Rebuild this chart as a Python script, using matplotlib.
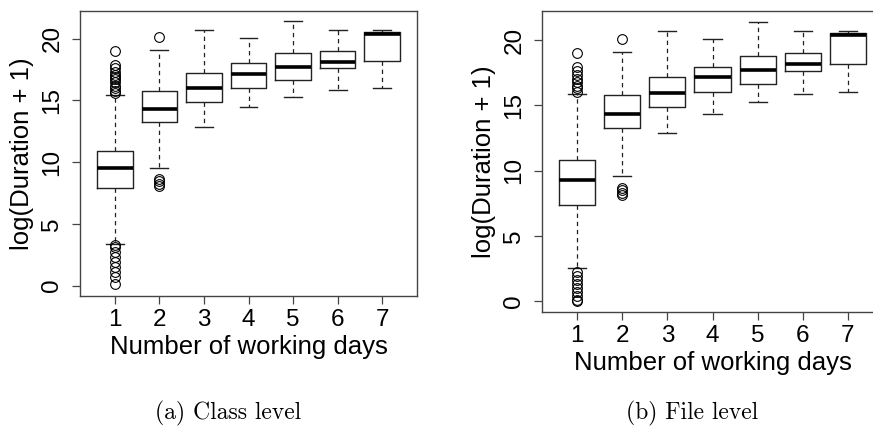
import matplotlib
matplotlib.use("Agg")
import matplotlib.pyplot as plt

days = [1, 2, 3, 4, 5, 6, 7]
y_ticks = [0, 5, 10, 15, 20]

# class level
class_q1 = [7.88, 13.25, 14.87, 16.02, 16.67, 17.64, 18.18]
class_med = [9.55, 14.30, 16.00, 17.15, 17.74, 18.12, 20.40]
class_q3 = [10.90, 15.73, 17.20, 18.00, 18.82, 19.00, 20.56]
class_lo = [3.36, 9.55, 12.82, 14.44, 15.27, 15.86, 16.02]
class_hi = [15.46, 19.09, 20.70, 20.03, 21.40, 20.70, 20.70]
class_out = [
    [19.0, 17.9, 17.6, 17.3, 17.1, 16.9, 16.7, 16.5, 16.2, 16.0, 15.8, 15.6,
     3.3, 3.1, 2.7, 2.3, 1.9, 1.5, 1.1, 0.7, 0.1],
    [20.15, 8.65, 8.45, 8.25, 8.1],
    [], [], [], [], [],
]

# file level
file_q1 = [7.36, 13.23, 14.84, 16.02, 16.65, 17.62, 18.16]
file_med = [9.27, 14.35, 15.96, 17.14, 17.70, 18.14, 20.38]
file_q3 = [10.78, 15.76, 17.19, 17.95, 18.80, 19.03, 20.56]
file_lo = [2.55, 9.58, 12.85, 14.35, 15.22, 15.84, 16.04]
file_hi = [15.84, 19.10, 20.69, 20.08, 21.35, 20.69, 20.69]
file_out = [
    [19.0, 17.9, 17.6, 17.3, 17.0, 16.8, 16.5, 16.3, 16.0,
     2.2, 1.9, 1.6, 1.3, 1.0, 0.7, 0.4, 0.1, 0.0],
    [20.1, 8.7, 8.5, 8.3, 8.1],
    [], [], [], [], [],
]

plt.rcParams['font.family'] = ['Liberation Sans', 'DejaVu Sans']


def make_stats(q1, med, q3, lo, hi, out):
    st = []
    for i in range(len(days)):
        st.append(dict(q1=q1[i], med=med[i], q3=q3[i], whislo=lo[i],
                       whishi=hi[i], fliers=out[i]))
    return st


def draw(ax, stats):
    ax.bxp(stats, positions=days, widths=0.8, showfliers=True, capwidths=0.4,
           boxprops=dict(color='#222222', lw=1.0),
           medianprops=dict(color='black', lw=2.6, solid_capstyle='butt'),
           whiskerprops=dict(color='#222222', lw=0.9, linestyle=(0, (3.5, 3))),
           capprops=dict(color='#222222', lw=1.0),
           flierprops=dict(marker='o', markersize=7, markerfacecolor='none',
                           markeredgecolor='black', markeredgewidth=0.8))
    ax.set_xlim(0.22, 7.78)
    ax.set_ylim(-0.85, 22.25)
    ax.set_xticks(days)
    ax.set_xticklabels([str(d) for d in days])
    ax.set_yticks(y_ticks)
    ax.set_yticklabels([str(v) for v in y_ticks])
    ax.tick_params(axis='both', labelsize=17.5, length=6, width=0.9, color='#444444')
    ax.tick_params(axis='x', pad=3)
    ax.tick_params(axis='y', labelrotation=90, pad=6)
    for lab in ax.get_yticklabels():
        lab.set_va('center')
    for sp in ax.spines.values():
        sp.set_color('#444444')
        sp.set_linewidth(1.0)
    ax.set_xlabel('Number of working days', fontsize=18.5, labelpad=3)
    ax.set_ylabel('log(Duration + 1)', fontsize=18.5, labelpad=5)


fig = plt.figure(figsize=(8.73, 4.26), dpi=100)
ax1 = fig.add_axes([80 / 873, 1 - 296 / 426, 337 / 873, 285 / 426])
ax2 = fig.add_axes([542 / 873, 1 - 312.3 / 426, 341 / 873, 301.6 / 426])

draw(ax1, make_stats(class_q1, class_med, class_q3, class_lo, class_hi, class_out))
draw(ax2, make_stats(file_q1, file_med, file_q3, file_lo, file_hi, file_out))

fig.text(228 / 873, 1 - 413 / 426, '(a) Class level', family='cmr10', fontsize=17,
         ha='center', va='center')
fig.text(692 / 873, 1 - 413 / 426, '(b) File level', family='cmr10', fontsize=17,
         ha='center', va='center')

fig.savefig('out.png', dpi=100)
